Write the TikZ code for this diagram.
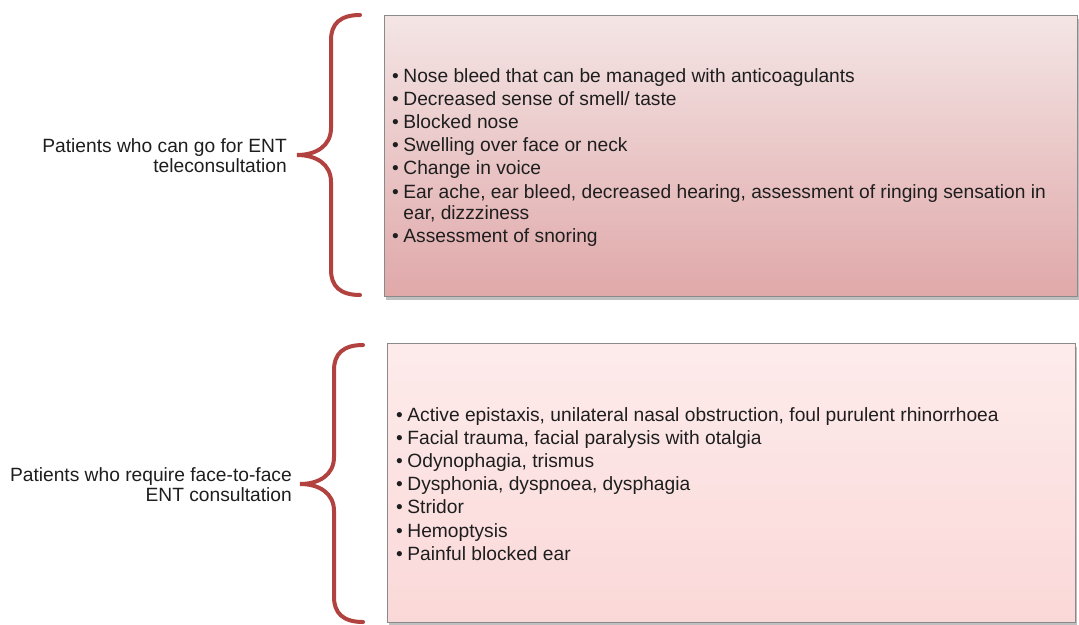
\documentclass[tikz,border=0pt]{standalone}
\usepackage{fontspec}
\setmainfont{Liberation Sans}
\usetikzlibrary{shadows}
\definecolor{bracec}{HTML}{B2423F}
\definecolor{boxline}{HTML}{8A8A8A}
\definecolor{txt}{HTML}{1E1E1E}
\definecolor{topA}{HTML}{F4E5E5}
\definecolor{topB}{HTML}{E0A8A9}
\definecolor{botA}{HTML}{FDEBEB}
\definecolor{botB}{HTML}{FBD8D8}
\begin{document}
\begin{tikzpicture}[x=1pt,y=-1pt,
  box/.style={draw=boxline, line width=1.3pt, rectangle, inner sep=0pt, anchor=north west,
    drop shadow={shadow xshift=1.5pt, shadow yshift=-3pt, fill=black!50, opacity=.5}},
  bracepath/.style={draw=bracec, line width=4pt, line cap=round},
  lst/.style={anchor=base west, inner sep=0pt, text=txt, font=\fontsize{19.2}{21}\selectfont},
  lbl/.style={anchor=base east, inner sep=0pt, align=right, text=txt, font=\fontsize{19.2}{20}\selectfont}]
\useasboundingbox (0,0) rectangle (1079,624);
\fill[white] (0,0) rectangle (1079,624);

% boxes
\node[box, top color=topA, bottom color=topB, minimum width=693pt, minimum height=281pt] (box1) at (384,15) {};
\node[box, top color=botA, bottom color=botB, minimum width=688pt, minimum height=279pt] (box2) at (387,343) {};

% braces
\draw[bracepath] (360,15) .. controls (340,15) and (331,24) .. (331,40) -- (331,128)
  .. controls (331,146) and (316,155) .. (297,155)
  .. controls (316,155) and (331,164) .. (331,182) -- (331,270)
  .. controls (331,286) and (340,295) .. (360,295);
\draw[bracepath] (363,345) .. controls (343,345) and (334,354) .. (334,370) -- (334,457)
  .. controls (334,475) and (319,484) .. (300,484)
  .. controls (319,484) and (334,493) .. (334,511) -- (334,597)
  .. controls (334,613) and (343,622) .. (363,622);

% labels (anchor = baseline of last line)
\node[lbl] (lab1) at (287,172) {Patients who can go for ENT\\teleconsultation};
\node[lbl] (lab2) at (292,501) {Patients who require face-to-face\\ENT consultation};

% lists
\node[lst] (list1) at (392,82) {\begin{tabular}[t]{@{}l@{\hspace{4.5pt}}l@{}}
\textbullet & Nose bleed that can be managed with anticoagulants\\[2.2pt]
\textbullet & Decreased sense of smell/ taste\\[2.2pt]
\textbullet & Blocked nose\\[2.2pt]
\textbullet & Swelling over face or neck\\[2.2pt]
\textbullet & Change in voice\\[2.2pt]
\textbullet & Ear ache, ear bleed, decreased hearing, assessment of ringing sensation in\\
 & ear, dizzziness\\[2.2pt]
\textbullet & Assessment of snoring
\end{tabular}};
\node[lst] (list2) at (396,421) {\begin{tabular}[t]{@{}l@{\hspace{4.5pt}}l@{}}
\textbullet & Active epistaxis, unilateral nasal obstruction, foul purulent rhinorrhoea\\[2.2pt]
\textbullet & Facial trauma, facial paralysis with otalgia\\[2.2pt]
\textbullet & Odynophagia, trismus\\[2.2pt]
\textbullet & Dysphonia, dyspnoea, dysphagia\\[2.2pt]
\textbullet & Stridor\\[2.2pt]
\textbullet & Hemoptysis\\[2.2pt]
\textbullet & Painful blocked ear
\end{tabular}};
\end{tikzpicture}
\end{document}
